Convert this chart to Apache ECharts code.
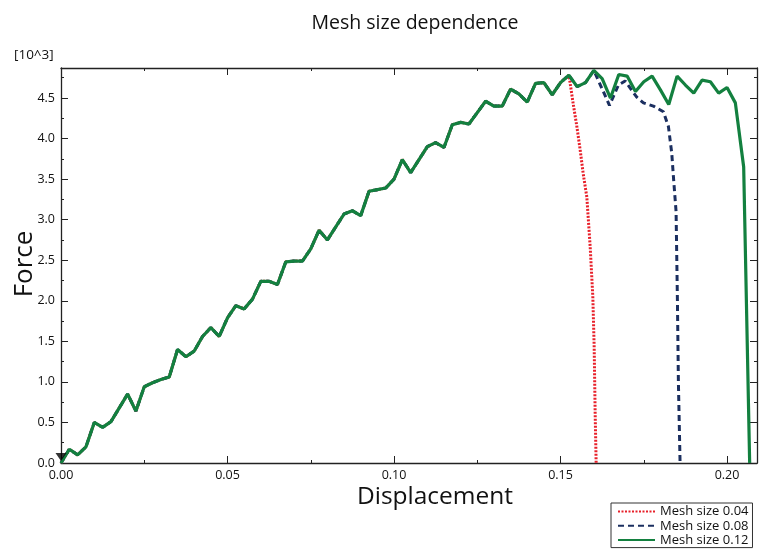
<!DOCTYPE html>
<html>
<head>
<meta charset="utf-8">
<script src="https://cdn.jsdelivr.net/npm/echarts@6/dist/echarts.min.js"></script>
<style>
html,body{margin:0;padding:0;background:#fff;}
#chart{width:761px;height:551px;}
</style>
</head>
<body>
<div id="chart"></div>
<script>
// ---- data ----
const titleText = 'Mesh size dependence';
const xName = 'Displacement';
const yName = 'Force';
const yUnit = '[10^3]';
const seriesNames = ['Mesh size 0.04', 'Mesh size 0.08', 'Mesh size 0.12'];

// Mesh size 0.12 (full curve)
const dispFine = [0, 0.0025, 0.005, 0.0075, 0.01, 0.0125, 0.015, 0.0175, 0.02, 0.0225,
  0.025, 0.0275, 0.03, 0.0325, 0.035, 0.0375, 0.04, 0.0425, 0.045, 0.0475,
  0.05, 0.0525, 0.055, 0.0575, 0.06, 0.0625, 0.065, 0.0675, 0.07, 0.0725,
  0.075, 0.0775, 0.08, 0.0825, 0.085, 0.0875, 0.09, 0.0925, 0.095, 0.0975,
  0.1, 0.1025, 0.105, 0.1075, 0.11, 0.1125, 0.115, 0.1175, 0.12, 0.1225,
  0.125, 0.1275, 0.13, 0.1325, 0.135, 0.1375, 0.14, 0.1425, 0.145, 0.1475,
  0.15, 0.1525, 0.155, 0.1575, 0.16, 0.1625, 0.165, 0.1675, 0.17, 0.1725,
  0.175, 0.1775, 0.18, 0.1825, 0.185, 0.1875, 0.19, 0.1925, 0.195, 0.1975,
  0.2, 0.2025, 0.205, 0.2068];
const forceFine = [0.00, 0.17, 0.10, 0.20, 0.50, 0.44, 0.51, 0.68, 0.85, 0.64,
  0.94, 0.99, 1.03, 1.06, 1.40, 1.31, 1.38, 1.56, 1.67, 1.56,
  1.79, 1.94, 1.90, 2.02, 2.24, 2.24, 2.20, 2.48, 2.49, 2.49,
  2.64, 2.87, 2.75, 2.91, 3.07, 3.11, 3.05, 3.35, 3.37, 3.39,
  3.50, 3.74, 3.58, 3.74, 3.90, 3.95, 3.89, 4.17, 4.20, 4.18,
  4.32, 4.46, 4.40, 4.40, 4.61, 4.55, 4.45, 4.68, 4.69, 4.54,
  4.69, 4.78, 4.64, 4.69, 4.84, 4.74, 4.50, 4.79, 4.77, 4.58,
  4.70, 4.77, 4.60, 4.42, 4.77, 4.66, 4.56, 4.72, 4.70, 4.56,
  4.63, 4.44, 3.65, 0.00];

// Mesh size 0.04: shares the curve up to index 61, then this tail
const sharedCountCoarse = 62;
const dispCoarseTail = [0.1529, 0.1538, 0.1549, 0.1559, 0.1568, 0.1579, 0.1589, 0.1597, 0.1601, 0.1604, 0.1607];
const forceCoarseTail = [4.68, 4.43, 4.15, 3.86, 3.57, 3.28, 2.67, 2.05, 1.44, 0.62, 0.00];

// Mesh size 0.08: shares the curve up to index 64, then this tail
const sharedCountMid = 65;
const dispMidTail = [0.1647, 0.1674, 0.1694, 0.1729, 0.1749, 0.1779, 0.1809, 0.1824, 0.1834, 0.1839, 0.1847, 0.1851, 0.1854, 0.1859];
const forceMidTail = [4.41, 4.66, 4.71, 4.51, 4.44, 4.40, 4.33, 4.15, 3.82, 3.53, 3.10, 2.01, 0.99, 0.00];

// marker at the origin
const originMarker = [[0, 0]];

// axis settings
const xMin = 0, xMax = 0.209, xMajor = 0.05, xMinor = 0.025;
const yMin = 0, yMax = 4.87, yMajor = 0.5, yMinor = 0.25;

// ---- build ----
function zip(xs, ys) { return xs.map((x, i) => [x, ys[i]]); }
const fineData = zip(dispFine, forceFine);
const coarseData = zip(dispFine.slice(0, sharedCountCoarse), forceFine.slice(0, sharedCountCoarse))
  .concat(zip(dispCoarseTail, forceCoarseTail));
const midData = zip(dispFine.slice(0, sharedCountMid), forceFine.slice(0, sharedCountMid))
  .concat(zip(dispMidTail, forceMidTail));

const FONT = 'Open Sans';
const AX = '#222';
const gridRect = { left: 61, right: 4, top: 68, bottom: 88, containLabel: false };

function xAx(grid, pos, interval, tickLen, showLine, showLabel) {
  return {
    type: 'value', gridIndex: grid, min: xMin, max: xMax, interval: interval, position: pos,
    axisLine: { show: showLine, onZero: false, lineStyle: { color: AX, width: 1.3 } },
    axisTick: { show: true, inside: true, length: tickLen, lineStyle: { color: AX, width: 1 } },
    axisLabel: { show: showLabel, formatter: v => v.toFixed(2), showMaxLabel: false, margin: 6,
      color: '#111', fontSize: 12.5, fontFamily: FONT },
    splitLine: { show: false }
  };
}
function yAx(grid, pos, interval, tickLen, showLine, showLabel) {
  return {
    type: 'value', gridIndex: grid, min: yMin, max: yMax, interval: interval, position: pos,
    axisLine: { show: showLine, onZero: false, lineStyle: { color: AX, width: 1.3 } },
    axisTick: { show: true, inside: true, length: tickLen, lineStyle: { color: AX, width: 1 } },
    axisLabel: { show: showLabel, formatter: v => v.toFixed(1), showMaxLabel: false, margin: 6,
      color: '#111', fontSize: 12.5, fontFamily: FONT },
    splitLine: { show: false }
  };
}

const chart = echarts.init(document.getElementById('chart'), null, { renderer: 'canvas' });
chart.setOption({
  animation: false,
  backgroundColor: '#fff',
  title: {
    text: titleText, left: 410, top: 8, textAlign: 'center',
    textStyle: { fontFamily: FONT, fontSize: 19.5, fontWeight: 'normal', color: '#111' }
  },
  grid: [Object.assign({}, gridRect), Object.assign({}, gridRect)],
  xAxis: [
    xAx(0, 'bottom', xMajor, 7, true, true),
    xAx(0, 'top', xMajor, 7, true, false),
    xAx(1, 'bottom', xMinor, 3, false, false),
    xAx(1, 'top', xMinor, 3, false, false)
  ],
  yAxis: [
    yAx(0, 'left', yMajor, 7, true, true),
    yAx(0, 'right', yMajor, 7, true, false),
    yAx(1, 'left', yMinor, 3, false, false),
    yAx(1, 'right', yMinor, 3, false, false)
  ],
  legend: {
    data: seriesNames, orient: 'vertical', left: 611, top: 503,
    itemWidth: 37, itemHeight: 12, itemGap: 1.3,
    padding: [2, 4, 1, 6],
    borderColor: '#333', borderWidth: 1, backgroundColor: '#fff',
    itemStyle: { opacity: 0 },
    textStyle: { fontFamily: FONT, fontSize: 13, lineHeight: 13, color: '#111' }
  },
  graphic: [
    { type: 'text', left: 14, top: 48, style: { text: yUnit, fontFamily: FONT, fontSize: 13.5, fill: '#111' } },
    { type: 'text', x: 25, y: 264, rotation: Math.PI / 2,
      style: { text: yName, fontFamily: FONT, fontSize: 26, fill: '#111', align: 'center', verticalAlign: 'middle' } },
    { type: 'text', x: 435, y: 497,
      style: { text: xName, fontFamily: FONT, fontSize: 24.5, fill: '#111', align: 'center', verticalAlign: 'middle' } }
  ],
  series: [
    { name: seriesNames[0], type: 'line', data: coarseData, showSymbol: false, symbol: 'none',
      xAxisIndex: 0, yAxisIndex: 0,
      lineStyle: { color: '#e8202a', width: 3, type: [2, 1.5] }, itemStyle: { color: '#e8202a' } },
    { name: seriesNames[1], type: 'line', data: midData, showSymbol: false, symbol: 'none',
      xAxisIndex: 0, yAxisIndex: 0,
      lineStyle: { color: '#1b2f60', width: 3, type: [6, 4] }, itemStyle: { color: '#1b2f60' } },
    { name: seriesNames[2], type: 'line', data: fineData, showSymbol: false, symbol: 'none',
      xAxisIndex: 0, yAxisIndex: 0,
      lineStyle: { color: '#13803f', width: 3.2, type: 'solid' }, itemStyle: { color: '#13803f' } },
    { name: 'origin', type: 'scatter', data: originMarker, symbol: 'triangle', symbolRotate: 180,
      symbolSize: [11, 8], symbolOffset: [0, -6], xAxisIndex: 0, yAxisIndex: 0, z: 5,
      itemStyle: { color: '#000' }, silent: true }
  ]
});
</script>
</body>
</html>
